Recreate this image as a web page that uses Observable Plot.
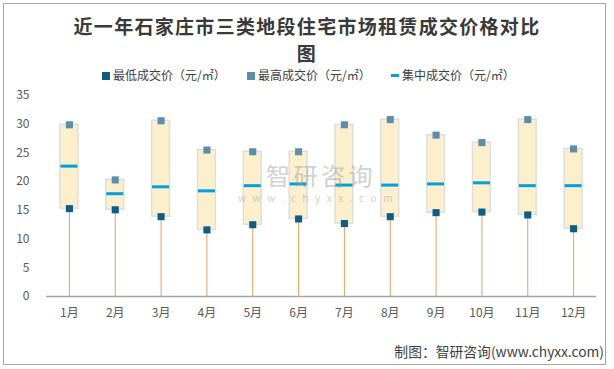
<!DOCTYPE html>
<html>
<head>
<meta charset="utf-8">
<script src="https://cdn.jsdelivr.net/npm/d3@7"></script>
<script src="https://cdn.jsdelivr.net/npm/@observablehq/plot@0.6"></script>
<style>
  body { margin: 0; background: #fff; }
  #wrap { position: relative; width: 614px; height: 369px; overflow: hidden; font-family: "Noto Sans CJK SC", sans-serif; }
  #frame { position: absolute; left: 3px; top: 3px; width: 603px; height: 362px; border: 1px solid #a6a6a6; box-sizing: border-box; }
  .title { position: absolute; left: 0; width: 614px; text-align: center; font-size: 19px; letter-spacing: 1.3px; font-weight: bold; color: #3a3a3a; line-height: 21px; height: 21px; }
  #t1 { top: 14.5px; }
  #t2 { top: 42px; }
  #legend { position: absolute; top: 67px; left: 0; width: 614px; height: 16px; font-size: 12px; color: #404040; }
  .li { position: absolute; top: 0; line-height: 16px; white-space: nowrap; }
  .sw { display: inline-block; width: 8px; height: 8px; margin-right: 3px; vertical-align: 0px; }
  .dash { display: inline-block; width: 8px; height: 3px; margin-right: 3px; vertical-align: 3px; }
  #chart { position: absolute; left: 0; top: 0; }
  #wm1 { position: absolute; left: 266px; top: 163px; font-size: 24px; line-height: 1; letter-spacing: 3.5px; color: #9a9a9a; opacity: 0.45; }
  #wm2 { position: absolute; left: 238px; top: 193px; font-size: 10px; line-height: 1; letter-spacing: 6.6px; color: #9a9a9a; opacity: 0.45; }
  #caption { position: absolute; right: 10px; top: 342px; font-size: 13.8px; line-height: 18px; color: #404040; }
</style>
</head>
<body>
<div id="wrap">
  <div id="chart"></div>
  <div class="title" id="t1">近一年石家庄市三类地段住宅市场租赁成交价格对比</div>
  <div class="title" id="t2">图</div>
  <div id="legend"></div>
  <div id="wm1">智研咨询</div>
  <div id="wm2">www.chyxx.com</div>
  <div id="caption">制图：智研咨询(www.chyxx.com)</div>
  <div id="frame"></div>
</div>
<script>
const months = ["1月","2月","3月","4月","5月","6月","7月","8月","9月","10月","11月","12月"];
const lowPrice  = [15.3, 15.1, 13.9, 11.6, 12.5, 13.5, 12.7, 13.9, 14.6, 14.7, 14.2, 11.8];
const highPrice = [29.9, 20.3, 30.6, 25.5, 25.2, 25.2, 29.9, 30.8, 28.1, 26.8, 30.8, 25.7];
const midPrice  = [22.7, 17.9, 19.1, 18.4, 19.3, 19.6, 19.4, 19.4, 19.6, 19.8, 19.3, 19.3];
const yTicks = [0, 5, 10, 15, 20, 25, 30, 35];
const seriesNames = ["最低成交价（元/㎡）", "最高成交价（元/㎡）", "集中成交价（元/㎡）"];
const colors = { low: "#0c5f84", high: "#5b8eaa", mid: "#00a0dc", box: "#fcefcb", boxStroke: "#dedede", stem: "#ee9f5c" };

const data = months.map((m, i) => ({ month: m, low: lowPrice[i], high: highPrice[i], mid: midPrice[i] }));

const chart = Plot.plot({
  width: 614,
  height: 330,
  marginTop: 95,
  marginBottom: 34,
  marginLeft: 46,
  marginRight: 18,
  style: { fontFamily: "'Noto Sans CJK SC', sans-serif", fontSize: "12px", color: "#595959", background: "transparent" },
  x: { domain: months, padding: 0, round: false, label: null, tickSize: 0, tickPadding: 12 },
  y: { domain: [0, 35], ticks: yTicks, label: null, tickSize: 0, tickPadding: 17 },
  marks: [
    Plot.ruleX(data, { x: "month", y1: 0, y2: "low", stroke: colors.stem, strokeWidth: 1 }),
    Plot.barY(data, { x: "month", y1: "low", y2: "high", fill: colors.box, stroke: colors.boxStroke, strokeWidth: 1.5, insetLeft: 14, insetRight: 14 }),
    Plot.ruleY([0], { stroke: "#a6a6a6", strokeWidth: 1.3 }),
    Plot.tickY(data, { x: "month", y: "mid", stroke: colors.mid, strokeWidth: 3, inset: 14.4 }),
    Plot.dot(data, { x: "month", y: "high", symbol: "square", r: 4, fill: colors.high }),
    Plot.dot(data, { x: "month", y: "low", symbol: "square", r: 4, fill: colors.low })
  ]
});
document.getElementById("chart").appendChild(chart);

const legend = document.getElementById("legend");
const items = [
  { name: seriesNames[0], type: "sw", color: colors.low, left: 102 },
  { name: seriesNames[1], type: "sw", color: colors.high, left: 247 },
  { name: seriesNames[2], type: "dash", color: colors.mid, left: 391 }
];
items.forEach(it => {
  const d = document.createElement("div");
  d.className = "li";
  d.style.left = it.left + "px";
  const s = document.createElement("span");
  s.className = it.type;
  s.style.background = it.color;
  d.appendChild(s);
  d.appendChild(document.createTextNode(it.name));
  legend.appendChild(d);
});
</script>
</body>
</html>
